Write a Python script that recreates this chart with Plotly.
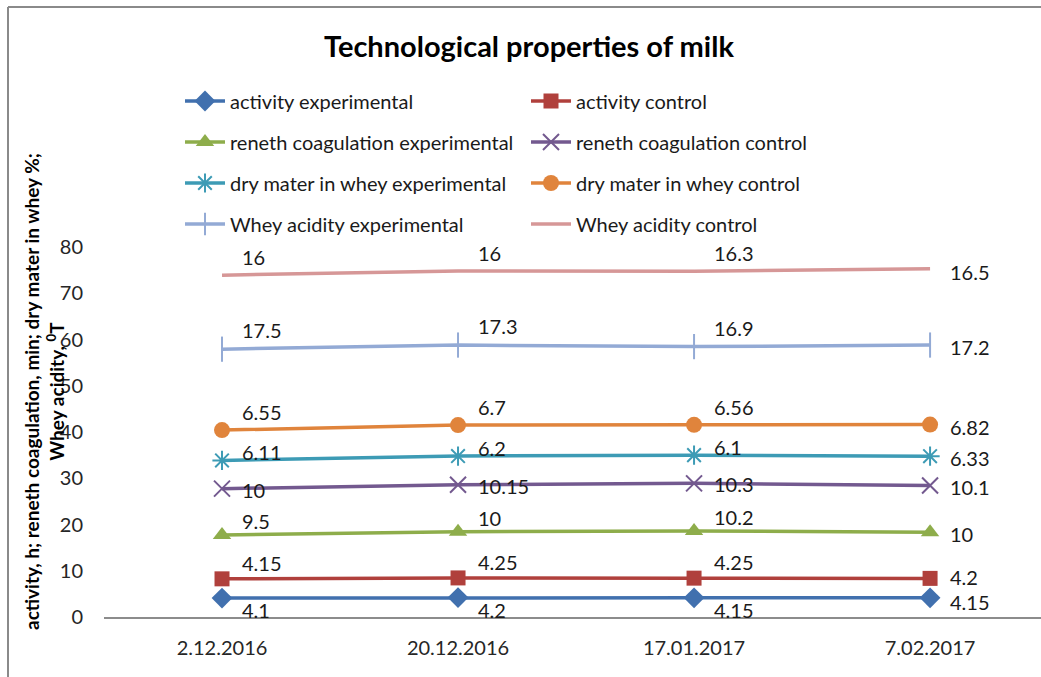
import numpy as np
import plotly.graph_objects as go

# Sampling dates (categories)
dates = ["2.12.2016", "20.12.2016", "17.01.2017", "7.02.2017"]

# Measured values per indicator
activity_experimental = [4.1, 4.2, 4.15, 4.15]
activity_control = [4.15, 4.25, 4.25, 4.2]
reneth_experimental = [9.5, 10, 10.2, 10]
reneth_control = [10, 10.15, 10.3, 10.1]
dry_experimental = [6.11, 6.2, 6.1, 6.33]
dry_control = [6.55, 6.7, 6.56, 6.82]
acidity_experimental = [17.5, 17.3, 16.9, 17.2]
acidity_control = [16, 16, 16.3, 16.5]

y_ticks = [0, 10, 20, 30, 40, 50, 60, 70, 80]

# dy: label offset (px, down positive) for inner points, dy_last for the last point
series = [
    ("activity experimental", activity_experimental,
     dict(color="#4170AE", symbol="diamond", size=16, lw=0, dy=12, dy_last=4)),
    ("activity control", activity_control,
     dict(color="#B0403C", symbol="square", size=15, lw=0, dy=-16, dy_last=-1)),
    ("reneth coagulation experimental", reneth_experimental,
     dict(color="#8EAD4B", symbol="triangle-up", size=16, lw=0, dy=-14, dy_last=2)),
    ("reneth coagulation control", reneth_control,
     dict(color="#73598F", symbol="x-thin-open", size=16, lw=2, dy=1, dy_last=2)),
    ("dry mater in whey experimental", dry_experimental,
     dict(color="#3D9BB5", symbol="asterisk-open", size=16, lw=2, dy=-8, dy_last=2)),
    ("dry mater in whey control", dry_control,
     dict(color="#E0843C", symbol="circle", size=16, lw=0, dy=-18, dy_last=2)),
    ("Whey acidity experimental", acidity_experimental,
     dict(color="#93AAD5", symbol="line-ns-open", size=18, lw=2, dy=-19, dy_last=2)),
    ("Whey acidity control", acidity_control,
     dict(color="#D69797", symbol=None, size=0, lw=0, dy=-18, dy_last=3)),
]

# Stacked line chart: each series is drawn on top of the previous ones
values = np.array([s[1] for s in series], dtype=float)
stacked = np.cumsum(values, axis=0)

FONT = "Lato"
fig = go.Figure()
annotations = []

legend_names = ["legend", "legend2", "legend3", "legend4"]

for i, (name, vals, st) in enumerate(series):
    ys = stacked[i]
    trace = dict(
        x=dates, y=ys, name=name,
        line=dict(color=st["color"], width=3.5),
        legend=legend_names[i // 2],
        hoverinfo="skip",
    )
    if st["symbol"]:
        trace["mode"] = "lines+markers"
        trace["marker"] = dict(
            symbol=st["symbol"], size=st["size"], color=st["color"],
            line=dict(width=st["lw"], color=st["color"]),
        )
    else:
        trace["mode"] = "lines"
    fig.add_trace(go.Scatter(**trace))

    # value labels show the raw measurement next to each point
    for j, (d, v, yv) in enumerate(zip(dates, vals, ys)):
        dy = st["dy"] if j < len(dates) - 1 else st["dy_last"]
        annotations.append(dict(
            x=d, y=yv, xref="x", yref="y", text=f"{v:g}",
            showarrow=False, xanchor="left", yanchor="middle",
            xshift=19, yshift=-dy, borderpad=0,
            font=dict(family=FONT, size=20, color="#1a1a1a"),
        ))

W, H = 1041, 677
L, R, T, B = 104, 0, 247, 60
pw, ph = W - L - R, H - T - B


def px(xp):
    return (xp - L) / pw


def py(yp):
    return (H - B - yp) / ph


# chart title
annotations.append(dict(
    x=px(529), y=py(45), xref="paper", yref="paper",
    text="<b>Technological properties of milk</b>", showarrow=False,
    xanchor="center", yanchor="middle",
    font=dict(family=FONT, size=29, color="#000000"),
))

# vertical axis title (two lines)
annotations.append(dict(
    x=px(44), y=py(392), xref="paper", yref="paper",
    text="<b>activity, h; reneth coagulation, min; dry mater in whey %;<br>"
         "Whey acidity, <sup>0</sup>T</b>",
    showarrow=False, textangle=-90, xanchor="center", yanchor="middle",
    font=dict(family=FONT, size=19, color="#000000"),
))

legend_rows = [101, 142, 183, 224]
legend_layout = {}
for k, ln in enumerate(legend_names):
    legend_layout[ln] = dict(
        orientation="h", x=px(180), y=py(legend_rows[k]),
        xanchor="left", yanchor="middle",
        entrywidth=291, entrywidthmode="pixels",
        font=dict(family=FONT, size=20, color="#1a1a1a"),
        bgcolor="rgba(0,0,0,0)", itemwidth=40,
        traceorder="normal",
    )

fig.update_layout(
    width=W, height=H,
    margin=dict(l=L, r=R, t=T, b=B, pad=0),
    paper_bgcolor="white", plot_bgcolor="white",
    showlegend=True,
    annotations=annotations,
    xaxis=dict(
        type="category", range=[-0.5, 3.47],
        showgrid=False, zeroline=False,
        showline=True, linecolor="#8c8c8c", linewidth=1.5,
        ticks="", ticklabelstandoff=12,
        tickfont=dict(family=FONT, size=20, color="#262626"),
    ),
    yaxis=dict(
        range=[0, 80], tickvals=y_ticks,
        showgrid=False, zeroline=False, showline=False,
        ticks="", ticklabelstandoff=20,
        tickfont=dict(family=FONT, size=20, color="#262626"),
    ),
    shapes=[
        dict(type="line", xref="paper", yref="paper",
             x0=px(8), x1=px(8), y0=py(7), y1=py(H + 5),
             line=dict(color="#8a8a8a", width=2)),
        dict(type="line", xref="paper", yref="paper",
             x0=px(8), x1=px(W + 5), y0=py(7), y1=py(7),
             line=dict(color="#8a8a8a", width=2)),
    ],
    **legend_layout,
)

fig.write_html("out.html")
